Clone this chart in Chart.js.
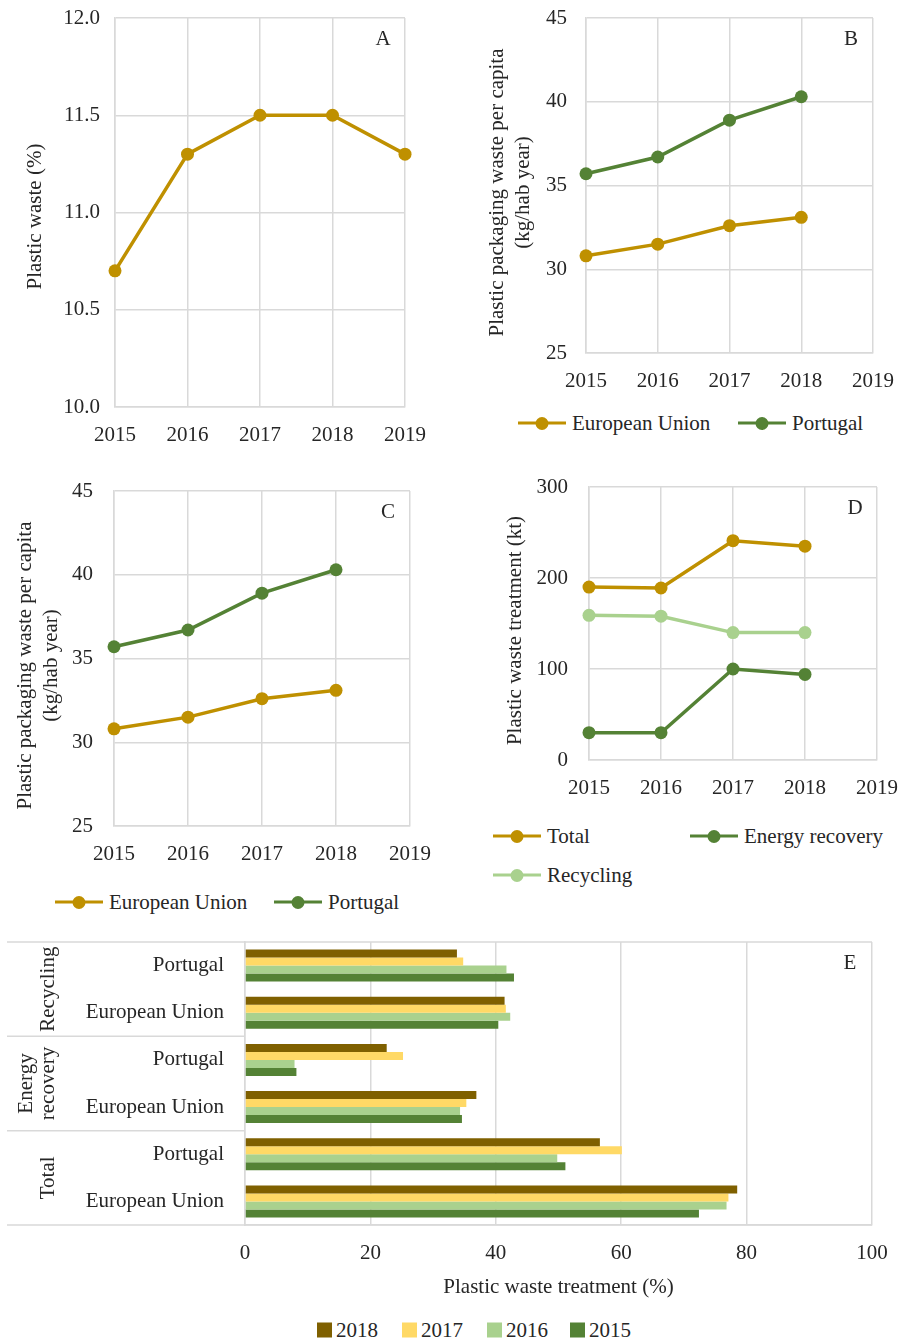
<!DOCTYPE html>
<html>
<head>
<meta charset="utf-8">
<script src="https://cdn.jsdelivr.net/npm/chart.js@4.4.0/dist/chart.umd.min.js"></script>
<style>
  html, body { margin: 0; padding: 0; background: #fff; }
  #page { position: relative; width: 901px; height: 1341px; overflow: hidden;
          font-family: 'Liberation Serif', 'Times New Roman', serif; color: #262626; }
  #page canvas { position: absolute; }
  .lg { position: absolute; display: flex; align-items: center; font-size: 21px; line-height: 1;
        white-space: nowrap; transform: translateY(-50%); }
  .lg .smp { position: relative; width: 48px; height: 3.5px; margin-right: 6px; }
  .lg .dot { position: absolute; left: 50%; top: 50%; width: 13px; height: 13px; border-radius: 50%;
             transform: translate(-50%, -50%); }
  .lg .sq { width: 15px; height: 15px; margin-right: 4px; }
</style>
</head>
<body>
<div id="page">
  <canvas id="cA"></canvas>
  <canvas id="cB"></canvas>
  <canvas id="cC"></canvas>
  <canvas id="cD"></canvas>
  <canvas id="cE"></canvas>
</div>
<script>
// ---- data ----
const years = ['2015', '2016', '2017', '2018', '2019'];

// A: plastic share of waste (%)
const plasticWasteShare = [10.7, 11.3, 11.5, 11.5, 11.3];

// B / C: plastic packaging waste per capita (kg/hab year)
const packagingEU = [30.8, 31.5, 32.6, 33.1];
const packagingPT = [35.7, 36.7, 38.9, 40.3];

// D: plastic waste treatment (kt)
const treatmentTotal = [190, 189, 241, 235];
const treatmentEnergy = [30, 30, 100, 94];
const treatmentRecycling = [159, 158, 140, 140];

// E: plastic waste treatment (%)
const eCategories = ['Portugal', 'European Union', 'Portugal', 'European Union', 'Portugal', 'European Union'];
const eGroups = [['Recycling'], ['Energy', 'recovery'], ['Total']];
const eYears = ['2018', '2017', '2016', '2015'];
const share2018 = [33.8, 41.4, 22.6, 36.9, 56.6, 78.5];
const share2017 = [34.8, 41.6, 25.2, 35.3, 60.1, 77.1];
const share2016 = [41.7, 42.3, 7.9, 34.3, 49.8, 76.8];
const share2015 = [42.9, 40.4, 8.2, 34.6, 51.1, 72.4];

// ---- styling ----
const FONT = "'Liberation Serif', 'Times New Roman', serif";
const INK = '#262626';
const GRID = '#D9D9D9';
const GOLD = '#BF9000';
const GREEN = '#548235';
const LIGHT_GREEN = '#A9D18E';
const yearColors = ['#7F6000', '#FFD966', '#A9D18E', '#548235'];

Chart.defaults.font.family = FONT;
Chart.defaults.font.size = 21;
Chart.defaults.color = INK;

// letter tag in the upper-right corner of each plot area
const panelTag = {
  id: 'panelTag',
  afterDraw(chart, args, opts) {
    const { ctx, chartArea } = chart;
    ctx.save();
    ctx.font = '21px ' + FONT;
    ctx.fillStyle = INK;
    ctx.textAlign = 'center';
    ctx.textBaseline = 'middle';
    ctx.fillText(opts.text, chartArea.right - 22, chartArea.top + 21);
    ctx.restore();
  }
};

// rotated y-axis title, placed beside the plot area
const sideTitle = {
  id: 'sideTitle',
  afterDraw(chart, args, opts) {
    if (!opts.lines) return;
    const { ctx, chartArea: ca } = chart;
    ctx.save();
    ctx.font = '21px ' + FONT;
    ctx.fillStyle = INK;
    ctx.textAlign = 'center';
    ctx.textBaseline = 'middle';
    ctx.translate(opts.x, (ca.top + ca.bottom) / 2 + opts.dy);
    ctx.rotate(-Math.PI / 2);
    opts.lines.forEach((t, k) => ctx.fillText(t, 0, k * opts.gap));
    ctx.restore();
  }
};

// frame, group separators and rotated group names for the bar panel
const groupFrame = {
  id: 'groupFrame',
  afterDraw(chart, args, opts) {
    const { ctx, chartArea: ca } = chart;
    const ys = chart.scales.y;
    ctx.save();
    ctx.strokeStyle = GRID;
    ctx.lineWidth = 1.5;
    ctx.beginPath();
    ctx.moveTo(opts.left, ca.top); ctx.lineTo(ca.right, ca.top);
    ctx.moveTo(opts.left, ca.bottom); ctx.lineTo(ca.right, ca.bottom);
    opts.groups.forEach((g, i) => {
      if (i === 0) return;
      const y = (ys.getPixelForValue(2 * i - 1) + ys.getPixelForValue(2 * i)) / 2;
      ctx.moveTo(opts.left, y); ctx.lineTo(ca.left, y);
    });
    ctx.stroke();
    ctx.fillStyle = INK;
    ctx.font = '21px ' + FONT;
    ctx.textAlign = 'center';
    ctx.textBaseline = 'middle';
    opts.groups.forEach((lines, i) => {
      const yc = (ys.getPixelForValue(2 * i) + ys.getPixelForValue(2 * i + 1)) / 2;
      lines.forEach((t, k) => {
        const x = opts.textX - (lines.length - 1 - k) * 22;
        ctx.save();
        ctx.translate(x, yc);
        ctx.rotate(-Math.PI / 2);
        ctx.fillText(t, 0, 0);
        ctx.restore();
      });
    });
    ctx.restore();
  }
};

function placeCanvas(id, left, top, w, h) {
  const cv = document.getElementById(id);
  cv.width = w; cv.height = h;
  cv.style.left = left + 'px'; cv.style.top = top + 'px';
  cv.style.width = w + 'px'; cv.style.height = h + 'px';
  return cv;
}

// fixed axis sizes so every plot area sits where the layout wants it
function fixX(h) {
  return s => { s.height = h; s.paddingLeft = 0; s.paddingRight = 0; };
}
function fixY(w) {
  return s => { s.width = w; s.paddingTop = 0; s.paddingBottom = 0; };
}

function lineChart(id, box, f, yAxis, series, tag) {
  const cv = placeCanvas(id, box[0], box[1], box[2], box[3]);
  return new Chart(cv, {
    type: 'line',
    data: {
      labels: years,
      datasets: series.map(s => ({
        label: s.label, data: s.data,
        borderColor: s.color, backgroundColor: s.color,
        pointBackgroundColor: s.color, pointBorderColor: s.color,
        borderWidth: 3.5, pointRadius: 6.5, pointHoverRadius: 6.5, pointBorderWidth: 0,
        tension: 0, clip: false
      }))
    },
    options: {
      responsive: false, animation: false, devicePixelRatio: 1,
      layout: { autoPadding: false, padding: { left: 0, top: f.top, right: f.right, bottom: 0 } },
      plugins: {
        legend: { display: false }, tooltip: { enabled: false },
        panelTag: { text: tag },
        sideTitle: { lines: yAxis.title, x: f.titleX, dy: f.titleDy, gap: 26 }
      },
      scales: {
        x: {
          grid: { color: GRID, lineWidth: 1.5, drawTicks: false },
          border: { color: GRID, width: 1.5 },
          ticks: { padding: 15.5, maxRotation: 0, autoSkip: false },
          afterFit: fixX(f.xh)
        },
        y: {
          min: yAxis.min, max: yAxis.max,
          grid: { color: GRID, lineWidth: 1.5, drawTicks: false },
          border: { color: GRID, width: 1.5 },
          ticks: { stepSize: yAxis.step, padding: f.tickPad, callback: v => v.toFixed(yAxis.dec) },
          afterFit: fixY(f.yw)
        }
      }
    },
    plugins: [panelTag, sideTitle]
  });
}

// A
lineChart('cA', [0, 0, 450, 460],
  { top: 18, right: 45, xh: 53, yw: 115, tickPad: 15, titleX: 35, titleDy: 4 },
  { min: 10, max: 12, step: 0.5, dec: 1, title: ['Plastic waste (%)'] },
  [{ label: 'Plastic waste', data: plasticWasteShare, color: GOLD }], 'A');

const packagingTitle = ['Plastic packaging waste per capita', '(kg/hab year)'];
const packagingSeries = [
  { label: 'European Union', data: packagingEU, color: GOLD },
  { label: 'Portugal', data: packagingPT, color: GREEN }
];

// B
lineChart('cB', [450, 0, 451, 410],
  { top: 18, right: 28, xh: 57, yw: 136, tickPad: 19, titleX: 47, titleDy: 7 },
  { min: 25, max: 45, step: 5, dec: 0, title: packagingTitle },
  packagingSeries, 'B');

// C
lineChart('cC', [0, 460, 450, 420],
  { top: 31, right: 40, xh: 54, yw: 114, tickPad: 21, titleX: 25, titleDy: 7 },
  { min: 25, max: 45, step: 5, dec: 0, title: packagingTitle },
  packagingSeries, 'C');

// D
const treatmentSeries = [
  { label: 'Total', data: treatmentTotal, color: GOLD },
  { label: 'Energy recovery', data: treatmentEnergy, color: GREEN },
  { label: 'Recycling', data: treatmentRecycling, color: LIGHT_GREEN }
];
lineChart('cD', [450, 460, 451, 350],
  { top: 27, right: 24, xh: 50, yw: 139, tickPad: 21, titleX: 65, titleDy: 7 },
  { min: 0, max: 300, step: 100, dec: 0, title: ['Plastic waste treatment (kt)'] },
  treatmentSeries, 'D');

// E
const cvE = placeCanvas('cE', 0, 930, 901, 370);
const shares = [share2018, share2017, share2016, share2015];
new Chart(cvE, {
  type: 'bar',
  data: {
    labels: eCategories,
    datasets: eYears.map((y, i) => ({ label: y, data: shares[i], backgroundColor: yearColors[i], borderWidth: 0 }))
  },
  options: {
    indexAxis: 'y', responsive: false, animation: false, devicePixelRatio: 1,
    layout: { autoPadding: false, padding: { left: 0, top: 12, right: 29, bottom: 0 } },
    datasets: { bar: { categoryPercentage: 0.68, barPercentage: 1 } },
    plugins: {
      legend: { display: false }, tooltip: { enabled: false },
      panelTag: { text: 'E' },
      groupFrame: { groups: eGroups, left: 7, textX: 48 }
    },
    scales: {
      x: {
        min: 0, max: 100,
        ticks: { stepSize: 20, padding: 15.5 },
        grid: { color: GRID, lineWidth: 1.5, drawTicks: false },
        border: { color: GRID, width: 1.5 },
        title: { display: true, text: 'Plastic waste treatment (%)', padding: { top: 0, bottom: 0 },
                 font: { size: 21, lineHeight: 1.22 } },
        afterFit: fixX(75)
      },
      y: {
        grid: { display: false, drawTicks: false },
        border: { color: GRID, width: 1.5 },
        ticks: { padding: 21, autoSkip: false },
        afterFit: fixY(245)
      }
    }
  },
  plugins: [panelTag, groupFrame]
});

// ---- legends ----
const page = document.getElementById('page');
function lineKey(x, y, label, color) {
  const d = document.createElement('div');
  d.className = 'lg';
  d.style.left = x + 'px'; d.style.top = y + 'px';
  d.innerHTML = '<span class="smp" style="background:' + color + '"><span class="dot" style="background:' +
    color + '"></span></span><span>' + label + '</span>';
  page.appendChild(d);
}
function boxKey(x, y, label, color) {
  const d = document.createElement('div');
  d.className = 'lg';
  d.style.left = x + 'px'; d.style.top = y + 'px';
  d.innerHTML = '<span class="sq" style="background:' + color + '"></span><span>' + label + '</span>';
  page.appendChild(d);
}
lineKey(518, 423, packagingSeries[0].label, packagingSeries[0].color);
lineKey(738, 423, packagingSeries[1].label, packagingSeries[1].color);
lineKey(55, 902, packagingSeries[0].label, packagingSeries[0].color);
lineKey(274, 902, packagingSeries[1].label, packagingSeries[1].color);
lineKey(493, 836, treatmentSeries[0].label, treatmentSeries[0].color);
lineKey(690, 836, treatmentSeries[1].label, treatmentSeries[1].color);
lineKey(493, 875, treatmentSeries[2].label, treatmentSeries[2].color);
[317, 402, 487, 570].forEach((x, i) => boxKey(x, 1330, eYears[i], yearColors[i]));
</script>
</body>
</html>
